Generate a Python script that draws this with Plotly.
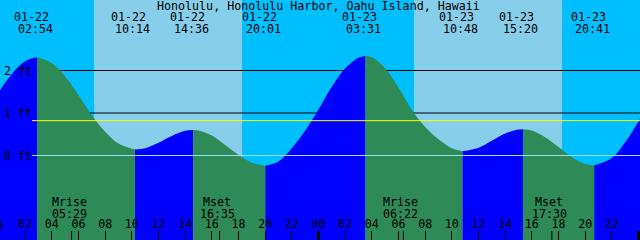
import plotly.graph_objects as go

TITLE = "Honolulu, Honolulu Harbor, Oahu Island, Hawaii"

# high / low tide events
tide_dates = ["01-22", "01-22", "01-22", "01-22", "01-23", "01-23", "01-23", "01-23"]
tide_times = ["02:54", "10:14", "14:36", "20:01", "03:31", "10:48", "15:20", "20:41"]
tide_ft = [2.31, 0.14, 0.60, -0.24, 2.34, 0.10, 0.62, -0.23]

# tide curve readings between the events (hours since 01-22 00:00, feet)
curve_hours = [0, 1, 2, 4, 5, 6, 7, 8, 9,
               11, 12, 13, 14,
               15, 16, 17, 18, 19,
               21, 22, 23, 24, 25, 26, 27,
               28, 29, 30, 31, 32, 33, 34,
               36, 37, 38, 39,
               40, 41, 42, 43, 44,
               46, 47, 48, 49]
curve_ft = [1.48, 1.92, 2.22, 2.17, 1.86, 1.42, 0.95, 0.56, 0.28,
            0.17, 0.30, 0.46, 0.58,
            0.59, 0.47, 0.25, 0.015, -0.17,
            -0.14, 0.17, 0.58, 1.08, 1.62, 2.05, 2.30,
            2.31, 2.05, 1.60, 1.07, 0.67, 0.38, 0.17,
            0.185, 0.35, 0.52, 0.61,
            0.59, 0.43, 0.20, -0.04, -0.20,
            -0.06, 0.31, 0.80, 1.32]

# sun
sunrise = [("01-22", "07:10"), ("01-23", "07:10")]
sunset = [("01-22", "18:16"), ("01-23", "18:16")]

# moon
moon_labels = ["Mrise", "Mset", "Mrise", "Mset"]
moon_dates = ["01-22", "01-22", "01-23", "01-23"]
moon_times = ["05:29", "16:35", "06:22", "17:30"]

# levels
level_ft = [0, 1, 2]
level_labels = ["0 ft", "1 ft", "2 ft"]
msl_ft = 0.82

# hour axis
hour_ticks = [0, 2, 4, 6, 8, 10, 12, 14, 16, 18, 20, 22, 24,
              26, 28, 30, 32, 34, 36, 38, 40, 42, 44, 46, 48]
hour_labels = ["00", "02", "04", "06", "08", "10", "12", "14", "16", "18", "20", "22", "00",
               "02", "04", "06", "08", "10", "12", "14", "16", "18", "20", "22", "00"]
midnights = [24, 48]

# colours
NIGHT = "#00BFFF"
DAY = "#87CEEB"
FLOOD = "#0000FF"
EBB = "#2E8B57"
MSL = "#FFFF00"
DATUM = "#A0DCF4"

W, H = 640, 240
X0 = 0.1125
X1 = X0 + 48
Y0, Y1 = -1.988, 3.659
FONT = "DejaVu Sans Mono"
FS = 11.67


def to_hours(date, hm):
    day = int(date[3:]) - 22
    h, m = hm.split(":")
    return day * 24 + int(h) + int(m) / 60.0


def py(pix):
    return 1 - pix / H


fig = go.Figure()

ev_h = [to_hours(d, t) for d, t in zip(tide_dates, tide_times)]
pts = sorted(list(zip(curve_hours, curve_ft)) + list(zip(ev_h, tide_ft)))
bounds = [-1e9] + ev_h + [1e9]
for a, b in zip(bounds[:-1], bounds[1:]):
    seg = [p for p in pts if a <= p[0] <= b]
    color = FLOOD if seg[-1][1] > seg[0][1] else EBB
    fig.add_trace(go.Scatter(x=[seg[0][0], seg[-1][0]], y=[-3, -3], mode="lines",
                             line=dict(width=0, color=color), hoverinfo="skip"))
    fig.add_trace(go.Scatter(x=[p[0] for p in seg], y=[p[1] for p in seg], mode="lines",
                             line=dict(width=0, shape="spline", color=color),
                             fill="tonexty", fillcolor=color, hoverinfo="skip"))

shapes = []
for (d1, t1), (d2, t2) in zip(sunrise, sunset):
    shapes.append(dict(type="rect", xref="x", yref="paper", x0=to_hours(d1, t1), x1=to_hours(d2, t2),
                       y0=0, y1=1, fillcolor=DAY, line=dict(width=0), layer="below"))
for lv in level_ft:
    if lv == 0:
        continue
    shapes.append(dict(type="line", xref="paper", yref="y", x0=30 / W, x1=1, y0=lv, y1=lv,
                       line=dict(color="black", width=1), layer="between"))
shapes.append(dict(type="line", xref="paper", yref="y", x0=32 / W, x1=1, y0=msl_ft, y1=msl_ft,
                   line=dict(color=MSL, width=1), layer="above"))
shapes.append(dict(type="line", xref="paper", yref="y", x0=32 / W, x1=1, y0=0, y1=0,
                   line=dict(color=DATUM, width=1), layer="above"))
for m in midnights:
    shapes.append(dict(type="line", xref="x", yref="paper", x0=m, x1=m, y0=0, y1=9 / H,
                       line=dict(color="black", width=3), layer="above"))
for d, t in zip(moon_dates, moon_times):
    x = to_hours(d, t)
    shapes.append(dict(type="line", xref="x", yref="paper", x0=x, x1=x, y0=0, y1=9 / H,
                       line=dict(color="black", width=1), layer="above"))

ann = []
tf = dict(family=FONT, size=FS, color="black")
ann.append(dict(text=TITLE, xref="paper", yref="paper", x=0.5, y=py(6), xshift=-1.5,
                showarrow=False, font=tf, xanchor="center", yanchor="middle"))
for d, t, x in zip(tide_dates, tide_times, ev_h):
    ann.append(dict(text=d, xref="x", yref="paper", x=x, y=py(17.5), xshift=-6,
                    showarrow=False, font=tf, xanchor="center", yanchor="middle"))
    ann.append(dict(text=t, xref="x", yref="paper", x=x, y=py(29), xshift=-2,
                    showarrow=False, font=tf, xanchor="center", yanchor="middle"))
for lab, d, t in zip(moon_labels, moon_dates, moon_times):
    x = to_hours(d, t)
    ann.append(dict(text=lab, xref="x", yref="paper", x=x, y=py(202), xshift=-2.5,
                    showarrow=False, font=tf, xanchor="center", yanchor="middle"))
    ann.append(dict(text=t, xref="x", yref="paper", x=x, y=py(213.5), xshift=-2.5,
                    showarrow=False, font=tf, xanchor="center", yanchor="middle"))
for lv, lab in zip(level_ft, level_labels):
    ann.append(dict(text=lab, xref="paper", yref="y", x=2 / W, y=lv, xanchor="left",
                    yanchor="middle", showarrow=False, font=tf))
# partially visible midnight label at the left edge
ann.append(dict(text=hour_labels[0], xref="paper", yref="paper", x=(hour_ticks[0] - X0) / (X1 - X0),
                y=py(225.5), xshift=-3, xanchor="center", yanchor="middle", showarrow=False, font=tf))

fig.update_layout(
    width=W, height=H, margin=dict(l=0, r=0, t=0, b=0),
    paper_bgcolor=NIGHT, plot_bgcolor=NIGHT, showlegend=False,
    shapes=shapes, annotations=ann,
    xaxis=dict(range=[X0, X1], showgrid=False, zeroline=False, showline=False,
               tickvals=hour_ticks, ticktext=hour_labels, ticks="inside", ticklen=9,
               tickwidth=1, tickcolor="black", ticklabelposition="inside",
               tickfont=tf, fixedrange=True),
    yaxis=dict(range=[Y0, Y1], visible=False, fixedrange=True),
)

fig.write_html("out.html")
